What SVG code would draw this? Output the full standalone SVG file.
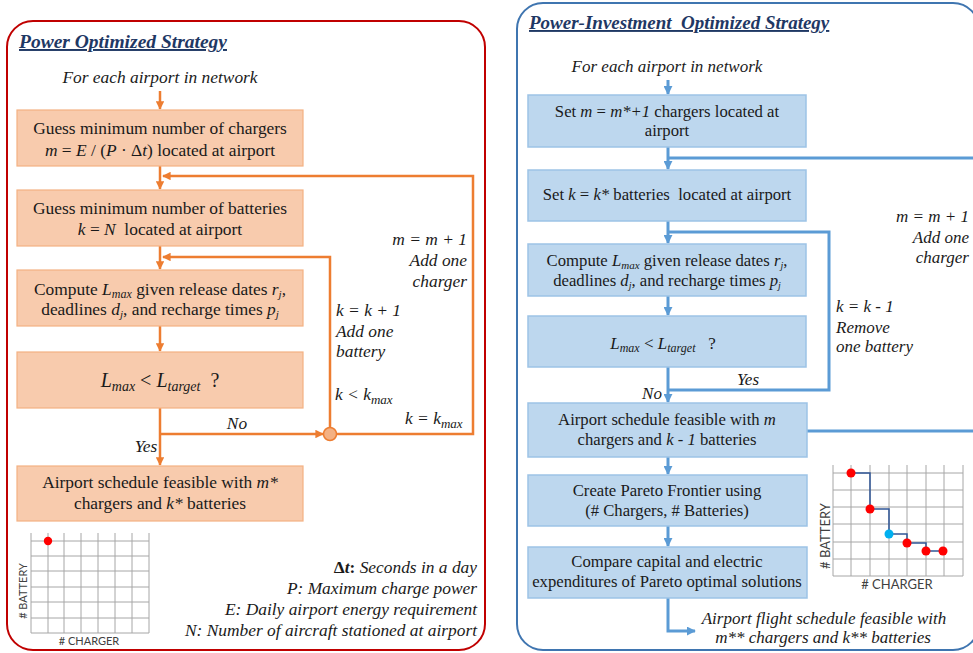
<svg xmlns="http://www.w3.org/2000/svg" width="973" height="653" viewBox="0 0 973 653">
<defs>
<style>
text{font-family:"Liberation Serif","Times New Roman",serif;fill:#1a1a1a}
.t{font-size:17.4px}
.tb{font-size:16.7px}
.it{font-style:italic}
.title{font-size:19.5px;font-weight:bold;font-style:italic;text-decoration:underline;fill:#1F3864}
.title2{font-size:19px;font-weight:bold;font-style:italic;text-decoration:underline;fill:#1F3864}
.lab{font-size:17.4px;font-style:italic}
.labr{font-size:17px;font-style:italic}
.ob{fill:#F8CBAD;stroke:#F4B183;stroke-width:1.2}
.bb{fill:#BDD7EE;stroke:#9DC3E6;stroke-width:1.5}
.ol{fill:none;stroke:#ED7D31;stroke-width:2.5}
.bl{fill:none;stroke:#5B9BD5;stroke-width:3}
.grid{stroke:#A6A6A6;stroke-width:1;fill:none}
.ax{font-family:Lato,"Liberation Sans",sans-serif;fill:#404040}
</style>
<marker id="ao" viewBox="0 0 10 10" refX="9" refY="5" markerWidth="3.4" markerHeight="3.4" orient="auto" markerUnits="strokeWidth"><path d="M0,0L10,5L0,10z" fill="#ED7D31"/></marker>
<marker id="ab" viewBox="0 0 10 10" refX="9" refY="5" markerWidth="3" markerHeight="3" orient="auto" markerUnits="strokeWidth"><path d="M0,0L10,5L0,10z" fill="#5B9BD5"/></marker>
</defs>
<rect width="973" height="653" fill="#ffffff"/>

<!-- Left panel -->
<g id="panel-power">
<rect x="7" y="21" width="478" height="629" rx="26" fill="none" stroke="#C00000" stroke-width="2"/>
<text class="title" x="19" y="48">Power Optimized Strategy</text>
<text class="lab" x="160" y="83" text-anchor="middle">For each airport in network</text>
</g>

<g id="connectors-left">
<line class="ol" x1="160" y1="91" x2="160" y2="109" marker-end="url(#ao)"/>
<line class="ol" x1="160" y1="166" x2="160" y2="189" marker-end="url(#ao)"/>
<polyline class="ol" points="336,434 473,434 473,176 163,176" marker-end="url(#ao)"/>
<line class="ol" x1="160" y1="246" x2="160" y2="269" marker-end="url(#ao)"/>
<polyline class="ol" points="330,428 330,257 163,257" marker-end="url(#ao)"/>
<line class="ol" x1="160" y1="326" x2="160" y2="351" marker-end="url(#ao)"/>
<line class="ol" x1="160" y1="408" x2="160" y2="465" marker-end="url(#ao)"/>
<line class="ol" x1="160" y1="434" x2="323" y2="434" marker-end="url(#ao)"/>
<circle cx="330" cy="434" r="6.5" fill="#F4B183" stroke="#ED7D31" stroke-width="1.5"/>
</g>

<g id="n1">
<rect class="ob" x="17" y="110" width="286" height="56"/>
<text class="t" x="160" y="134" text-anchor="middle">Guess minimum number of chargers</text>
<text class="t" x="160" y="156" text-anchor="middle"><tspan class="it">m</tspan> = <tspan class="it">E</tspan> / (<tspan class="it">P</tspan> · Δ<tspan class="it">t</tspan>) located at airport</text>
</g>
<g id="n2">
<rect class="ob" x="17" y="190" width="286" height="56"/>
<text class="t" x="160" y="214" text-anchor="middle">Guess minimum number of batteries</text>
<text class="t" x="160" y="235" text-anchor="middle" xml:space="preserve"><tspan class="it">k</tspan> = <tspan class="it">N</tspan>  located at airport</text>
</g>
<g id="n3">
<rect class="ob" x="17" y="270" width="286" height="56"/>
<text class="t" x="160" y="295" text-anchor="middle">Compute <tspan class="it">L</tspan><tspan class="it" font-size="12" dy="3">max</tspan><tspan dy="-3"> given release dates </tspan><tspan class="it">r</tspan><tspan class="it" font-size="11" dy="3">j</tspan><tspan dy="-3">,</tspan></text>
<text class="t" x="160" y="315" text-anchor="middle">deadlines <tspan class="it">d</tspan><tspan class="it" font-size="11" dy="3">j</tspan><tspan dy="-3">, and recharge times </tspan><tspan class="it">p</tspan><tspan class="it" font-size="11" dy="3">j</tspan></text>
</g>
<g id="n4">
<rect class="ob" x="17" y="352" width="286" height="56"/>
<text x="160" y="387" text-anchor="middle" font-size="20" xml:space="preserve"><tspan class="it">L</tspan><tspan class="it" font-size="14" dy="4">max</tspan><tspan dy="-4"> &lt; </tspan><tspan class="it">L</tspan><tspan class="it" font-size="14" dy="4">target</tspan><tspan dy="-4">  ?</tspan></text>
</g>
<g id="n5">
<rect class="ob" x="17" y="466" width="286" height="55"/>
<text class="t" x="160" y="488" text-anchor="middle">Airport schedule feasible with <tspan class="it">m*</tspan></text>
<text class="t" x="160" y="509" text-anchor="middle">chargers and <tspan class="it">k*</tspan> batteries</text>
</g>

<g id="labels-left">
<text class="lab" x="467" y="245" text-anchor="end">m = m + 1</text>
<text class="lab" x="467" y="266" text-anchor="end">Add one</text>
<text class="lab" x="467" y="287" text-anchor="end">charger</text>
<text class="lab" x="336" y="316">k = k + 1</text>
<text class="lab" x="336" y="337">Add one</text>
<text class="lab" x="336" y="357">battery</text>
<text class="lab" x="335" y="400">k &lt; k<tspan font-size="13" dy="4">max</tspan></text>
<text class="lab" x="405" y="424">k = k<tspan font-size="13" dy="4">max</tspan></text>
<text class="lab" x="237" y="429" text-anchor="middle">No</text>
<text class="lab" x="146" y="452" text-anchor="middle">Yes</text>
</g>

<g id="chart-left">
<path class="grid" d="M31,533V633M48,533V633M64,533V633M81,533V633M98,533V633M115,533V633M132,533V633M149,533V633M31,541H149M31,556H149M31,571H149M31,587H149M31,602H149M31,618H149M31,633H149"/>
<circle cx="48" cy="541" r="4.2" fill="#FF0000"/>
<text class="ax" x="27" y="591" font-size="11" text-anchor="middle" transform="rotate(-90 27 591)"># BATTERY</text>
<text class="ax" x="89" y="645" font-size="11" text-anchor="middle"># CHARGER</text>
</g>

<g id="legend-left">
<text class="lab" x="477" y="573" text-anchor="end"><tspan font-style="normal" font-weight="bold">Δ</tspan><tspan font-weight="bold">t</tspan><tspan font-style="normal" font-weight="bold">:</tspan> Seconds in a day</text>
<text class="lab" x="477" y="594" text-anchor="end">P: Maximum charge power</text>
<text class="lab" x="477" y="615" text-anchor="end">E: Daily airport energy requirement</text>
<text class="lab" x="477" y="636" text-anchor="end">N: Number of aircraft stationed at airport</text>
</g>

<!-- Right panel -->
<g id="panel-investment">
<rect x="517" y="3" width="462" height="647" rx="26" fill="none" stroke="#3F75B0" stroke-width="2"/>
<text class="title2" x="529" y="29" xml:space="preserve">Power-Investment  Optimized Strategy</text>
<text class="labr" x="667" y="72" text-anchor="middle">For each airport in network</text>
</g>

<g id="connectors-right">
<line class="bl" x1="668" y1="80" x2="668" y2="94" marker-end="url(#ab)"/>
<line class="bl" x1="668" y1="147" x2="668" y2="169" marker-end="url(#ab)"/>
<polyline class="bl" points="807,431 990,431 990,158 668,158"/>
<line class="bl" x1="668" y1="221" x2="668" y2="243" marker-end="url(#ab)"/>
<polyline class="bl" points="668,390 829,390 829,232 668,232"/>
<line class="bl" x1="668" y1="296" x2="668" y2="315" marker-end="url(#ab)"/>
<line class="bl" x1="668" y1="367" x2="668" y2="402" marker-end="url(#ab)"/>
<line class="bl" x1="668" y1="457" x2="668" y2="474" marker-end="url(#ab)"/>
<line class="bl" x1="668" y1="526" x2="668" y2="546" marker-end="url(#ab)"/>
<polyline class="bl" points="668,598 668,631 695,631" marker-end="url(#ab)"/>
</g>

<g id="r1">
<rect class="bb" x="528" y="95" width="278" height="52"/>
<text class="tb" x="667" y="117" text-anchor="middle">Set <tspan class="it">m</tspan> = <tspan class="it">m*+1</tspan> chargers located at</text>
<text class="tb" x="667" y="136" text-anchor="middle">airport</text>
</g>
<g id="r2">
<rect class="bb" x="528" y="170" width="278" height="51"/>
<text class="tb" x="667" y="200" text-anchor="middle" xml:space="preserve">Set <tspan class="it">k</tspan> = <tspan class="it">k*</tspan> batteries  located at airport</text>
</g>
<g id="r3">
<rect class="bb" x="528" y="244" width="278" height="52"/>
<text class="tb" x="667" y="266" text-anchor="middle">Compute <tspan class="it">L</tspan><tspan class="it" font-size="11" dy="3">max</tspan><tspan dy="-3"> given release dates </tspan><tspan class="it">r</tspan><tspan class="it" font-size="10" dy="3">j</tspan><tspan dy="-3">,</tspan></text>
<text class="tb" x="667" y="286" text-anchor="middle">deadlines <tspan class="it">d</tspan><tspan class="it" font-size="10" dy="3">j</tspan><tspan dy="-3">, and recharge times </tspan><tspan class="it">p</tspan><tspan class="it" font-size="10" dy="3">j</tspan></text>
</g>
<g id="r4">
<rect class="bb" x="528" y="316" width="278" height="51"/>
<text x="663" y="349" text-anchor="middle" font-size="17" xml:space="preserve"><tspan class="it">L</tspan><tspan class="it" font-size="12" dy="3">max</tspan><tspan dy="-3"> &lt; </tspan><tspan class="it">L</tspan><tspan class="it" font-size="12" dy="3">target</tspan><tspan dy="-3">   ?</tspan></text>
</g>
<g id="r5">
<rect class="bb" x="528" y="403" width="279" height="54"/>
<text class="tb" x="667" y="425" text-anchor="middle">Airport schedule feasible with <tspan class="it">m</tspan></text>
<text class="tb" x="667" y="445" text-anchor="middle">chargers and <tspan class="it">k</tspan> - <tspan class="it">1</tspan> batteries</text>
</g>
<g id="r6">
<rect class="bb" x="528" y="475" width="279" height="51"/>
<text class="tb" x="667" y="496" text-anchor="middle">Create Pareto Frontier using</text>
<text class="tb" x="667" y="516" text-anchor="middle">(# Chargers, # Batteries)</text>
</g>
<g id="r7">
<rect class="bb" x="528" y="547" width="279" height="51"/>
<text class="tb" x="667" y="567" text-anchor="middle">Compare capital and electric</text>
<text class="tb" x="667" y="587" text-anchor="middle">expenditures of Pareto optimal solutions</text>
</g>
<g id="r-out">
<text class="labr" x="824" y="624" text-anchor="middle">Airport flight schedule feasible with</text>
<text class="labr" x="823" y="643" text-anchor="middle">m** chargers and k** batteries</text>
</g>

<g id="labels-right">
<text class="labr" x="969" y="222" text-anchor="end">m = m + 1</text>
<text class="labr" x="969" y="243" text-anchor="end">Add one</text>
<text class="labr" x="969" y="263" text-anchor="end">charger</text>
<text class="labr" x="836" y="312">k = k - 1</text>
<text class="labr" x="836" y="333">Remove</text>
<text class="labr" x="836" y="352">one battery</text>
<text class="labr" x="748" y="385" text-anchor="middle">Yes</text>
<text class="labr" x="652" y="399" text-anchor="middle">No</text>
</g>

<g id="chart-right">
<path class="grid" d="M833,465V576M851,465V576M870,465V576M889,465V576M907,465V576M926,465V576M944,465V576M963,465V576M833,473H963M833,490H963M833,507H963M833,524H963M833,542H963M833,559H963M833,576H963"/>
<polyline points="851,473 870,473 870,509 889,509 889,534 907,534 907,543 926,543 926,551 943,551" fill="none" stroke="#2F5597" stroke-width="1.5"/>
<circle cx="851" cy="473" r="4.5" fill="#FF0000"/>
<circle cx="870" cy="509" r="4.5" fill="#FF0000"/>
<circle cx="889" cy="534" r="4.5" fill="#00B0F0"/>
<circle cx="907" cy="543" r="4.5" fill="#FF0000"/>
<circle cx="926" cy="551" r="4.5" fill="#FF0000"/>
<circle cx="943" cy="551" r="4.5" fill="#FF0000"/>
<text class="ax" x="830" y="536" font-size="13" text-anchor="middle" transform="rotate(-90 830 536)"># BATTERY</text>
<text class="ax" x="897" y="589" font-size="13" text-anchor="middle"># CHARGER</text>
</g>
</svg>
